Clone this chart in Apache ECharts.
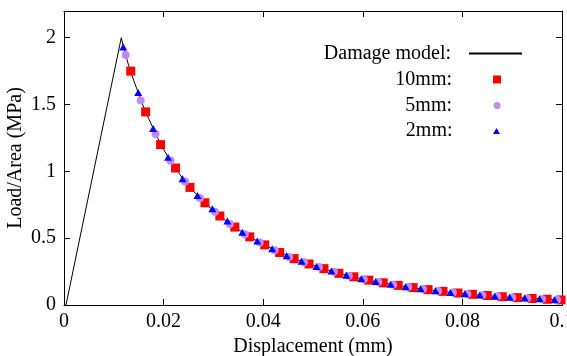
<!DOCTYPE html>
<html>
<head>
<meta charset="utf-8">
<script src="https://cdn.jsdelivr.net/npm/echarts@6/dist/echarts.min.js"></script>
<style>
html,body{margin:0;padding:0;background:#fff;}
#chart{width:567px;height:356px;}
</style>
</head>
<body>
<div id="chart"></div>
<script>
// ---- data ----
const xTicks = [0, 0.02, 0.04, 0.06, 0.08, 0.1];
const yTicks = [0, 0.5, 1, 1.5, 2];

const modelX = [0.0004, 0.0115, 0.012, 0.013, 0.014, 0.015, 0.016, 0.017, 0.018, 0.019, 0.020,
  0.021, 0.022, 0.023, 0.024, 0.025, 0.026, 0.027, 0.028, 0.029, 0.030,
  0.032, 0.034, 0.036, 0.038, 0.040, 0.042, 0.044, 0.046, 0.048, 0.050,
  0.052, 0.054, 0.056, 0.058, 0.060, 0.062, 0.064, 0.066, 0.068, 0.070,
  0.072, 0.074, 0.076, 0.078, 0.080, 0.082, 0.084, 0.086, 0.088, 0.090,
  0.092, 0.094, 0.096, 0.098, 0.100];
const modelY = [0, 2.00, 1.92, 1.79, 1.68, 1.58, 1.48, 1.395, 1.315, 1.235, 1.165,
  1.10, 1.045, 0.99, 0.94, 0.895, 0.852, 0.812, 0.775, 0.74, 0.707,
  0.645, 0.59, 0.54, 0.495, 0.455, 0.417, 0.383, 0.352, 0.323, 0.297,
  0.273, 0.251, 0.231, 0.212, 0.195, 0.180, 0.166, 0.153, 0.141, 0.130,
  0.119, 0.110, 0.101, 0.093, 0.086, 0.079, 0.073, 0.067, 0.062, 0.057,
  0.053, 0.049, 0.045, 0.041, 0.038];

const mm10X = [0.0134, 0.0164, 0.0194, 0.0224, 0.0253, 0.0283, 0.0313, 0.0343, 0.0373, 0.0403,
  0.0433, 0.0462, 0.0492, 0.0522, 0.0552, 0.0582, 0.0612, 0.0641, 0.0671, 0.0701,
  0.0731, 0.0761, 0.0791, 0.0820, 0.0850, 0.0880, 0.0910, 0.0940, 0.0970, 0.0998];
const mm10Y = [1.75, 1.445, 1.20, 1.025, 0.88, 0.765, 0.666, 0.583, 0.51, 0.45,
  0.393, 0.347, 0.307, 0.272, 0.237, 0.211, 0.186, 0.166, 0.147, 0.130,
  0.115, 0.102, 0.090, 0.080, 0.071, 0.062, 0.055, 0.049, 0.043, 0.038];

const mm5X = [0.0124, 0.0154, 0.0184, 0.0214, 0.0243, 0.0273, 0.0303, 0.0333, 0.0363, 0.0393,
  0.0423, 0.0452, 0.0482, 0.0512, 0.0542, 0.0572, 0.0602, 0.0631, 0.0661, 0.0691,
  0.0721, 0.0751, 0.0781, 0.0810, 0.0840, 0.0870, 0.0900, 0.0930, 0.0960, 0.0990];
const mm5Y = [1.87, 1.53, 1.28, 1.08, 0.925, 0.80, 0.697, 0.607, 0.53, 0.468,
  0.41, 0.36, 0.32, 0.284, 0.249, 0.219, 0.193, 0.172, 0.152, 0.134,
  0.119, 0.105, 0.093, 0.082, 0.073, 0.065, 0.057, 0.051, 0.045, 0.039];

const mm2X = [0.0119, 0.0149, 0.0179, 0.0209, 0.0238, 0.0268, 0.0298, 0.0328, 0.0358, 0.0388,
  0.0418, 0.0447, 0.0477, 0.0507, 0.0537, 0.0567, 0.0597, 0.0626, 0.0656, 0.0686,
  0.0716, 0.0746, 0.0776, 0.0805, 0.0835, 0.0865, 0.0895, 0.0925, 0.0955, 0.0985];
const mm2Y = [1.93, 1.59, 1.32, 1.105, 0.945, 0.82, 0.72, 0.628, 0.545, 0.478,
  0.42, 0.368, 0.327, 0.288, 0.254, 0.222, 0.197, 0.176, 0.155, 0.137,
  0.121, 0.107, 0.094, 0.084, 0.074, 0.066, 0.058, 0.052, 0.046, 0.040];

const seriesNames = ['Damage model', '10mm', '5mm', '2mm'];
const legendLabels = ['Damage model:', '10mm:', '5mm:', '2mm:'];

// ---- chart ----
const zip = (xs, ys) => xs.map((x, i) => [x, ys[i]]);
const FONT = 'Liberation Serif';
const fmtX = v => xTicks.some(t => Math.abs(t - v) < 1e-9) ? String(+v.toFixed(4)) : '';
const fmtY = v => yTicks.some(t => Math.abs(t - v) < 1e-9) ? String(+v.toFixed(4)) : '';

const axisCommon = {
  axisLine: { show: true, onZero: false, lineStyle: { color: '#000', width: 1 } },
  axisTick: { show: true, inside: true, length: 6, lineStyle: { color: '#000', width: 1 } },
  splitLine: { show: false }
};

function legendRow(idx, top, right, itemWidth, itemHeight, padRight, extra) {
  return Object.assign({
    data: [{ name: seriesNames[idx] }],
    orient: 'vertical',
    align: 'right',
    right: right,
    top: top,
    padding: 0,
    itemWidth: itemWidth,
    itemHeight: itemHeight,
    selectedMode: false,
    formatter: () => legendLabels[idx],
    textStyle: { fontFamily: FONT, fontSize: 20, color: '#000', lineHeight: 20, padding: [0, padRight, 0, 0] }
  }, extra || {});
}

const chart = echarts.init(document.getElementById('chart'), null, { renderer: 'canvas' });
chart.setOption({
  animation: false,
  backgroundColor: '#fff',
  grid: { left: 64, right: 5, top: 11, bottom: 51, containLabel: false, outerBoundsMode: 'none' },
  legend: [
    legendRow(0, 43.5, 44, 53, 20, 13, { itemStyle: { color: 'rgba(0,0,0,0)', borderWidth: 0, opacity: 0 } }),
    legendRow(1, 69.5, 66, 8, 8, 36),
    legendRow(2, 95.5, 66.5, 7, 7, 36.5),
    legendRow(3, 121, 67, 7, 6, 35.5)
  ],
  xAxis: [
    Object.assign({
      type: 'value', min: 0, max: 0.1, interval: 0.02, position: 'bottom',
      name: 'Displacement (mm)', nameLocation: 'middle', nameGap: 32, nameMoveOverlap: false,
      nameTextStyle: { fontFamily: FONT, fontSize: 20, color: '#000' },
      axisLabel: { show: true, margin: 7, fontFamily: FONT, fontSize: 20, color: '#000', formatter: fmtX, hideOverlap: false }
    }, axisCommon),
    Object.assign({
      type: 'value', min: 0, max: 0.1, interval: 0.02, position: 'top',
      axisLabel: { show: false }
    }, axisCommon)
  ],
  yAxis: [
    Object.assign({
      type: 'value', min: 0, max: 2.2, interval: 0.5, position: 'left',
      name: 'Load/Area (MPa)', nameLocation: 'middle', nameGap: 38, nameMoveOverlap: false,
      nameTextStyle: { fontFamily: FONT, fontSize: 20, color: '#000' },
      axisLabel: { show: true, margin: 8, fontFamily: FONT, fontSize: 20, color: '#000', formatter: fmtY }
    }, axisCommon),
    Object.assign({
      type: 'value', min: 0, max: 2.2, interval: 0.5, position: 'right',
      axisLabel: { show: false }
    }, axisCommon)
  ],
  series: [
    {
      name: seriesNames[0], type: 'line', data: zip(modelX, modelY),
      showSymbol: false, symbol: 'none', smooth: false, z: 1,
      lineStyle: { color: '#000', width: 1 }, itemStyle: { color: '#000' }
    },
    {
      name: seriesNames[1], type: 'scatter', data: zip(mm10X, mm10Y),
      symbol: 'rect', symbolSize: 9, z: 2, itemStyle: { color: '#ff0000', opacity: 1 }
    },
    {
      name: seriesNames[2], type: 'scatter', data: zip(mm5X, mm5Y),
      symbol: 'circle', symbolSize: 8, z: 3, itemStyle: { color: '#c08af8', opacity: 1 }
    },
    {
      name: seriesNames[3], type: 'scatter', data: zip(mm2X, mm2Y),
      symbol: 'triangle', symbolSize: [8, 7], z: 4, itemStyle: { color: '#0000ff', opacity: 1 }
    }
  ]
});
</script>
</body>
</html>
